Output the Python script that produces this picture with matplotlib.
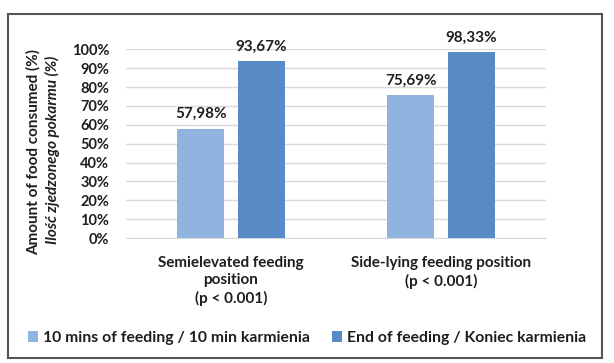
import numpy as np
import matplotlib
matplotlib.use("Agg")
import matplotlib.pyplot as plt
from matplotlib.patches import Rectangle

# data
categories = ["Semielevated feeding\nposition\n(p < 0.001)",
              "Side-lying feeding position\n(p < 0.001)"]
series_names = ["10 mins of feeding / 10 min karmienia",
                "End of feeding / Koniec karmienia"]
values_10min = [57.98, 75.69]
values_end = [93.67, 98.33]
yticks = np.arange(0, 101, 10)

colors = ["#8fb4e0", "#588bc6"]
font = "Lato"
plt.rcParams["font.family"] = [font, "DejaVu Sans"]
txt = "#1e1e1e"

W, H = 614, 363
fig = plt.figure(figsize=(W / 100, H / 100), dpi=100)

# axes placement in pixels
left, right, top, bottom = 126, 546, 49.3, 238
ax = fig.add_axes([left / W, (H - bottom) / H, (right - left) / W, (bottom - top) / H])

x = np.arange(len(categories))
bw = 0.224
off = 0.143
for vals, c, name, dx in [(values_10min, colors[0], series_names[0], -off),
                          (values_end, colors[1], series_names[1], off)]:
    bars = ax.bar(x + dx, vals, width=bw, color=c, label=name, zorder=3)
    for b, v in zip(bars, vals):
        ax.text(b.get_x() + b.get_width() / 2, v + 4, f"{v:.2f}%".replace(".", ","),
                ha="center", va="bottom", fontsize=11, fontweight="bold", color=txt)

ax.set_xlim(-0.5, 1.5)
ax.set_ylim(0, 100)
ax.set_yticks(yticks)
ax.set_yticklabels([f"{t}%" for t in yticks], fontsize=10.5, fontweight="bold", color=txt)
ax.yaxis.grid(True, color="#d9d9d9", linewidth=1, zorder=0)
ax.set_xticks(x)
ax.set_xticklabels(categories, fontsize=11, fontweight="bold", color=txt, linespacing=1.3)
ax.tick_params(axis="y", length=0, pad=12)
ax.tick_params(axis="x", length=0, pad=13)
for s in ["top", "right", "left"]:
    ax.spines[s].set_visible(False)
ax.spines["bottom"].set_color("#d9d9d9")

# two-line y label, second line italic
fig.text(33 / W, (H - 152) / H, "Amount of food consumed (%)", rotation=90,
         ha="center", va="center", fontsize=11, fontweight="bold", color=txt)
fig.text(52 / W, (H - 150) / H, "Ilość zjedzonego pokarmu (%)", rotation=90,
         ha="center", va="center", fontsize=11, fontstyle="italic", fontweight="bold", color=txt)

fig.legend(loc="center", bbox_to_anchor=(0.5, (H - 338) / H), ncol=2, frameon=False,
           prop={"family": [font, "DejaVu Sans"], "weight": "bold", "size": 11.3},
           handlelength=0.65, handleheight=0.65, handletextpad=0.3, columnspacing=1.4,
           labelcolor=txt)

# outer frame
fig.patches.append(Rectangle((8 / W, (H - 358) / H), (602 - 8) / W, (358 - 14) / H,
                             transform=fig.transFigure, fill=False,
                             edgecolor="#555555", linewidth=1.5))

fig.savefig("out.png", dpi=100)
